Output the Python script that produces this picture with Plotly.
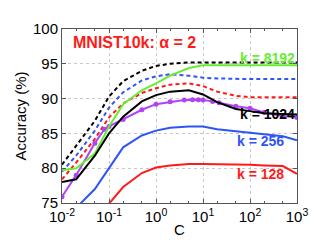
import plotly.graph_objects as go

C = [0.01, 0.02, 0.05, 0.1, 0.2, 0.5, 1, 2, 5, 10, 20, 50, 100, 200, 500, 1000]

black_dash = [80.5, 83.2, 86.8, 90.3, 92.5, 94.0, 94.7, 95.0, 95.2, 95.2, 95.2, 95.2, 95.2, 95.2, 95.2, 95.2]
blue_dash = [79.5, 81.8, 85.4, 88.7, 90.9, 92.6, 93.2, 93.5, 93.3, 93.0, 92.9, 92.8, 92.8, 92.8, 92.8, 92.8]
red_dash = [78.4, 80.8, 84.2, 87.3, 89.3, 90.8, 91.5, 92.0, 92.2, 91.8, 91.0, 90.4, 90.2, 90.2, 90.2, 90.2]

green = [79.7, 80.0, 82.1, 86.0, 89.2, 91.2, 92.2, 93.3, 94.4, 94.8, 94.8, 94.8, 94.8, 94.8, 94.8, 94.8]
black = [78.0, 78.4, 81.8, 85.0, 87.4, 89.6, 90.5, 91.0, 91.2, 90.6, 89.5, 88.5, 88.2, 87.9, 87.8, 87.7]
blue = [72.0, 74.3, 77.0, 80.0, 83.0, 84.7, 85.4, 85.8, 86.0, 86.0, 85.6, 85.3, 85.1, 84.9, 84.6, 84.0]
red = [68.0, 70.0, 72.5, 74.9, 77.3, 79.3, 80.1, 80.4, 80.6, 80.6, 80.6, 80.5, 80.5, 80.4, 80.3, 79.2]

C_purple = [0.01, 0.02, 0.05, 0.08, 0.1, 0.2, 0.5, 1, 2, 4, 6, 8, 10, 16, 22, 50, 100, 200, 500, 1000]
purple = [75.9, 79.0, 83.6, 85.6, 86.0, 87.0, 88.4, 89.2, 89.55, 89.8, 89.85, 89.85, 89.8, 89.6, 89.4, 88.9, 88.6, 88.0, 87.5, 87.3]

x_ticks = [0.01, 0.1, 1, 10, 100, 1000]
x_ticktext = ["10<sup>-2</sup>", "10<sup>-1</sup>", "10<sup>0</sup>", "10<sup>1</sup>", "10<sup>2</sup>", "10<sup>3</sup>"]
y_ticks = [75, 80, 85, 90, 95, 100]

GREEN = "#66ee33"
BLUE = "#2f55f5"
RED = "#ff1a1a"
PURPLE = "#b044f5"

fig = go.Figure()
dash = "4px,3px"
lw = 2
fig.add_trace(go.Scatter(x=C, y=black_dash, mode="lines", line=dict(color="black", width=lw, dash=dash)))
fig.add_trace(go.Scatter(x=C, y=blue_dash, mode="lines", line=dict(color=BLUE, width=lw, dash=dash)))
fig.add_trace(go.Scatter(x=C, y=red_dash, mode="lines", line=dict(color=RED, width=lw, dash=dash)))
fig.add_trace(go.Scatter(x=C_purple, y=purple, mode="lines+markers", line=dict(color=PURPLE, width=lw),
                         marker=dict(size=5, color=PURPLE)))
fig.add_trace(go.Scatter(x=C, y=green, mode="lines", line=dict(color=GREEN, width=lw)))
fig.add_trace(go.Scatter(x=C, y=black, mode="lines", line=dict(color="black", width=lw)))
fig.add_trace(go.Scatter(x=C, y=blue, mode="lines", line=dict(color=BLUE, width=lw)))
fig.add_trace(go.Scatter(x=C, y=red, mode="lines", line=dict(color=RED, width=lw)))

font = "Liberation Sans, Arial, sans-serif"
ann = [
    ("<b>MNIST10k:</b> <b>α = 2</b>", 0.04, 32, RED, 16),
    ("<b>k = 8192</b>", 1.0, 48, GREEN, 14),
    ("<b>k = 1024</b>", 1.0, 107, "black", 14),
    ("<b>k = 256</b>", 0.955, 135, BLUE, 14),
    ("<b>k = 128</b>", 0.955, 170, RED, 14),
]
anns = []
for text, xpaper, ypx, col, sz in ann:
    anns.append(dict(text=text, xref="paper", yref="paper",
                     x=xpaper, y=1 - (ypx - 18) / 182.0,
                     xanchor="right" if xpaper > 0.5 else "left", yanchor="middle",
                     showarrow=False, font=dict(color=col, size=sz, family=font)))

fig.update_layout(
    width=319, height=240,
    margin=dict(l=48, r=30, t=18, b=40),
    paper_bgcolor="white", plot_bgcolor="white",
    showlegend=False,
    font=dict(family=font, size=15, color="black"),
    annotations=anns,
)
fig.update_xaxes(type="log", range=[-2, 3], tickvals=x_ticks, ticktext=x_ticktext,
                 showline=True, linecolor="#555", linewidth=1, mirror="ticks",
                 ticks="inside", ticklen=4, tickcolor="#555",
                 showgrid=True, gridcolor="#c8c8c8", griddash="dot", gridwidth=1,
                 minor=dict(ticks="inside", ticklen=2, tickcolor="#555", showgrid=False),
                 title=dict(text="C", font=dict(size=15), standoff=0),
                 zeroline=False, tickfont=dict(size=15))
fig.update_yaxes(range=[75, 100], tickvals=y_ticks,
                 showline=True, linecolor="#555", linewidth=1, mirror="ticks",
                 ticks="inside", ticklen=4, tickcolor="#555",
                 showgrid=True, gridcolor="#c8c8c8", griddash="dot", gridwidth=1,
                 title=dict(text="Accuracy (%)", font=dict(size=15), standoff=2),
                 zeroline=False, tickfont=dict(size=15))

fig.write_html("out.html")
